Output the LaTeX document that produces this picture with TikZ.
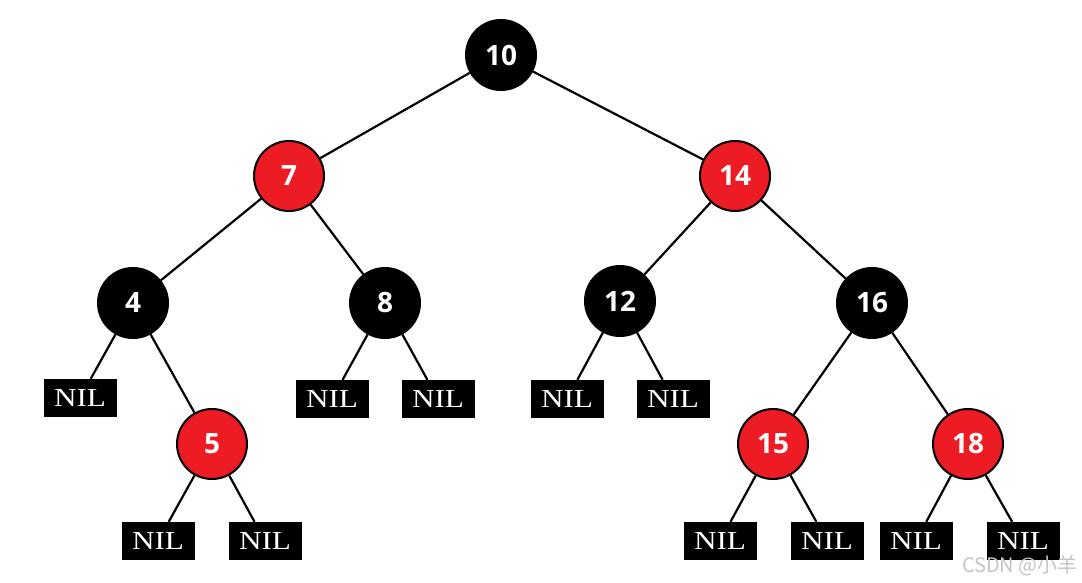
\documentclass[tikz,border=0pt]{standalone}
\usepackage{fontspec}
\setmainfont{Open Sans}
\newfontfamily\nilfont[FakeStretch=1.2]{Liberation Serif}
\newfontfamily\cjkfont{Noto Sans CJK SC}
\definecolor{TreeRed}{HTML}{ED1C24}
\definecolor{TreeBlack}{HTML}{000000}
\definecolor{TreeMark}{HTML}{C4C4C4}

\begin{document}
\begin{tikzpicture}[x=1pt,y=-1pt,
    rbnode/.style={circle,draw=TreeBlack,line width=2pt,minimum size=70pt,inner sep=0pt,
      text=white,font=\fontsize{28}{28}\selectfont\bfseries},
    blacknode/.style={rbnode,fill=TreeBlack},
    rednode/.style={rbnode,fill=TreeRed},
    nilbox/.style={rectangle,fill=TreeBlack,minimum width=73pt,minimum height=38pt,inner sep=0pt,
      text=white,font=\nilfont\fontsize{26}{26}\selectfont},
    link/.style={draw=TreeBlack,line width=2.2pt}]
    \useasboundingbox (0,0) rectangle (1082,583);
    % tree nodes
    \node[blacknode] (n10) at (501,55) {10};
    \node[rednode] (n7) at (289,176) {7};
    \node[rednode] (n14) at (735,176) {14};
    \node[blacknode] (n4) at (133,303) {4};
    \node[blacknode] (n8) at (385,303) {8};
    \node[blacknode] (n12) at (620,301) {12};
    \node[blacknode] (n16) at (872,303) {16};
    \node[rednode] (n5) at (212,444) {5};
    \node[rednode] (n15) at (773,444) {15};
    \node[rednode] (n18) at (968,444) {18};
    % leaves
    \foreach \name/\x/\y in {nilA/80/398,nilB/332/399,nilC/438/399,nilD/567/399,nilE/673/399,
      nilF/158/541,nilG/265/541,nilH/720/541,nilI/827/541,nilJ/916/541,nilK/1023/541} {
      \node[nilbox] (\name) at (\x,\y) {NIL};
    }
    % links
    \foreach \a/\b in {n10/n7,n10/n14,n7/n4,n7/n8,n14/n12,n14/n16,n4/nilA,n4/n5,
      n8/nilB,n8/nilC,n12/nilD,n12/nilE,n16/n15,n16/n18,n5/nilF,n5/nilG,
      n15/nilH,n15/nilI,n18/nilJ,n18/nilK} {
      \draw[link] (\a) -- (\b);
    }
    \node[text=TreeMark,font=\cjkfont\fontsize{20}{20}\selectfont,anchor=east,inner sep=0pt] (mark) at (1078,566) {CSDN @小羊};
  \end{tikzpicture}
\end{document}
